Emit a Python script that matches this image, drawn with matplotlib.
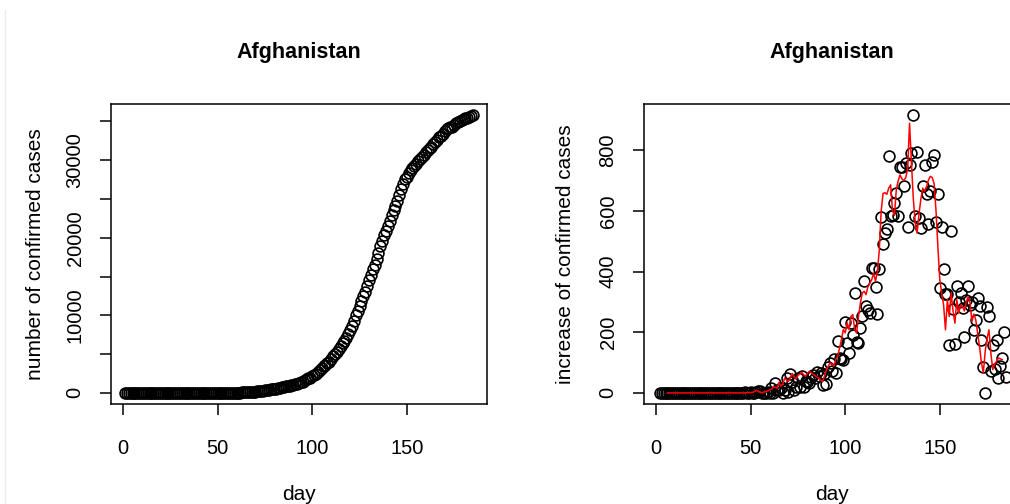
import numpy as np
import matplotlib
matplotlib.use("Agg")
import matplotlib.pyplot as plt
from matplotlib.lines import Line2D

plt.rcParams['font.family'] = ['Liberation Sans', 'DejaVu Sans']

# cumulative confirmed cases, day 1 .. 185
confirmed = [0] * 33 + [1] * 13 + [
    4, 4, 5, 7, 7, 7, 11, 16, 21, 22, 22, 22, 24, 24, 40, 40, 74, 84, 94, 110,
    110, 120, 170, 174, 237, 273, 281, 299, 349, 367, 423, 444, 484, 521, 555, 607,
    665, 714, 784, 840, 906, 933, 996, 1026,
    1110, 1209, 1281, 1393, 1459, 1629, 1744, 1855, 1965, 2198,
    2362, 2494, 2724, 2914, 3243, 3411, 3576, 3790, 4045, 4413,
    4698, 4970, 5233, 5645, 6057, 6405, 6666, 7074, 7654, 8145,
    8672, 9212, 9994, 10578, 11165, 11791, 12450, 13032, 13778, 14524,
    15205, 15962, 16508, 17258, 18048, 18965, 19547, 20340, 20916, 21459,
    22142, 22892, 23547, 24105, 24772, 25535, 26320, 26885, 27541, 27800,
    28300, 28700, 29000, 29300, 29500, 29950, 30200, 30400, 30700, 31000,
    31300, 31550, 31750, 32050, 32350, 32650, 32950, 33150, 33400, 33700,
    33950, 34150, 34250, 34300, 34550, 34800, 34900, 35050, 35150, 35300,
    35380, 35470, 35560, 35700, 35780]

# daily increase, day 2 .. 185
increase = [0] * 32 + [1] + [0] * 12 + [
    3, 0, 1, 2, 0, 0, 4, 5, 5, 1, 0, 0, 2, 0, 16, 0, 34, 10, 10, 16,
    0, 10, 50, 4, 63, 36, 8, 18, 50, 18, 56, 21, 40, 37, 34, 52,
    58, 49, 70, 56, 66, 27, 63, 30,
    84, 99, 72, 112, 66, 170, 115, 111, 110, 233,
    164, 132, 230, 190, 329, 168, 165, 214, 255, 368,
    285, 272, 263, 412, 412, 348, 261, 408, 580, 491,
    527, 540, 782, 584, 587, 626, 659, 582, 746, 746,
    681, 757, 546, 750, 790, 917, 582, 793, 576, 543,
    683, 750, 655, 558, 667, 763, 785, 565, 656, 345,
    547, 408, 326, 326, 159, 535, 277, 161, 351, 300,
    330, 280, 184, 307, 351, 290, 300, 209, 240, 313,
    285, 176, 85, 0, 283, 252, 71, 159, 80, 176,
    49, 90, 115, 201, 52]

# red smoothed curve, day 6 .. 183
smooth = [0] * 42 + [
    1, 1, 1, 2, 4, 9, 5, 2, 0, 3, 4, 6, 10, 12, 20, 18, 16, 35, 22, 30,
    49, 42, 38, 52, 64, 52, 46, 58, 62, 68, 60, 55, 65, 71, 66, 62, 57, 52,
    49, 42, 38, 55, 75,
    88, 99, 95, 88, 110, 121, 148, 176, 209, 198,
    231, 209, 252, 258, 209, 198, 252, 296, 329, 335,
    324, 351, 362, 373, 395, 368, 400, 470, 600, 658,
    660, 655, 675, 686, 600, 585, 670, 700, 719, 705,
    700, 710, 740, 889, 760, 640, 560, 527, 590, 640,
    675, 665, 680, 702, 714, 710, 690, 600, 480, 373,
    330, 290, 208, 307, 252, 329, 270, 230, 307, 263,
    290, 285, 270, 300, 318, 296, 236, 260, 241, 197,
    153, 100, 66, 137, 180, 208, 130, 77, 95, 104,
    115, 112, 110]

country = "Afghanistan"
xticks = [0, 50, 100, 150]

conf_days = np.arange(1, 1 + len(confirmed))
inc_days = np.arange(2, 2 + len(increase))
smooth_days = np.arange(6, 6 + len(smooth))

W, H = 1010, 504
fig = plt.figure(figsize=(W / 100, H / 100), dpi=100)
fig.patch.set_facecolor('white')


def style(ax, yticks, ylabels, ylab, ylab_x):
    ax.set_xlim(-6.4, 192.4)
    ax.set_xticks(xticks)
    ax.set_xticklabels([str(t) for t in xticks])
    ax.set_yticks(yticks)
    ax.set_yticklabels(ylabels, rotation=90, va='center')
    ax.tick_params(direction='out', length=8, width=1.1, labelsize=14.5)
    ax.tick_params(axis='x', pad=17)
    ax.tick_params(axis='y', pad=11)
    for s in ax.spines.values():
        s.set_linewidth(1.1)
    ax.text(0.5, 1.173, country, transform=ax.transAxes, ha='center',
            va='center', fontsize=15.5, fontweight='bold')
    ax.text(0.5, -0.30, "day", transform=ax.transAxes, ha='center',
            va='center', fontsize=15)
    ax.text(ylab_x, 0.5, ylab, transform=ax.transAxes, ha='center',
            va='center', rotation=90, fontsize=15)


# left: cumulative
ax1 = fig.add_axes([111 / W, 1 - 404 / H, 376 / W, 300 / H])
ax1.plot(conf_days, confirmed, 'o', mfc='none', mec='black', ms=7.8, mew=1.2)
ax1.set_ylim(-1432, 37232)
yt1 = list(range(0, 35001, 5000))
style(ax1, yt1, [str(v) if v % 10000 == 0 else '' for v in yt1],
      "number of confirmed cases", -0.202)

# right: daily increase
ax2 = fig.add_axes([644 / W, 1 - 404 / H, 376 / W, 300 / H])
ax2.plot(inc_days, increase, 'o', mfc='none', mec='black', ms=7.8, mew=1.2)
ax2.plot(smooth_days, smooth, color='red', lw=1.1)
ax2.set_ylim(-36.6, 952.6)
yt2 = [0, 200, 400, 600, 800]
style(ax2, yt2, [str(v) for v in yt2], "increase of confirmed cases", -0.21)

fig.add_artist(Line2D([4.5 / W, 4.5 / W], [0, 1 - 10 / H], color='#ebebeb', lw=1))

fig.savefig("out.png", dpi=100)
